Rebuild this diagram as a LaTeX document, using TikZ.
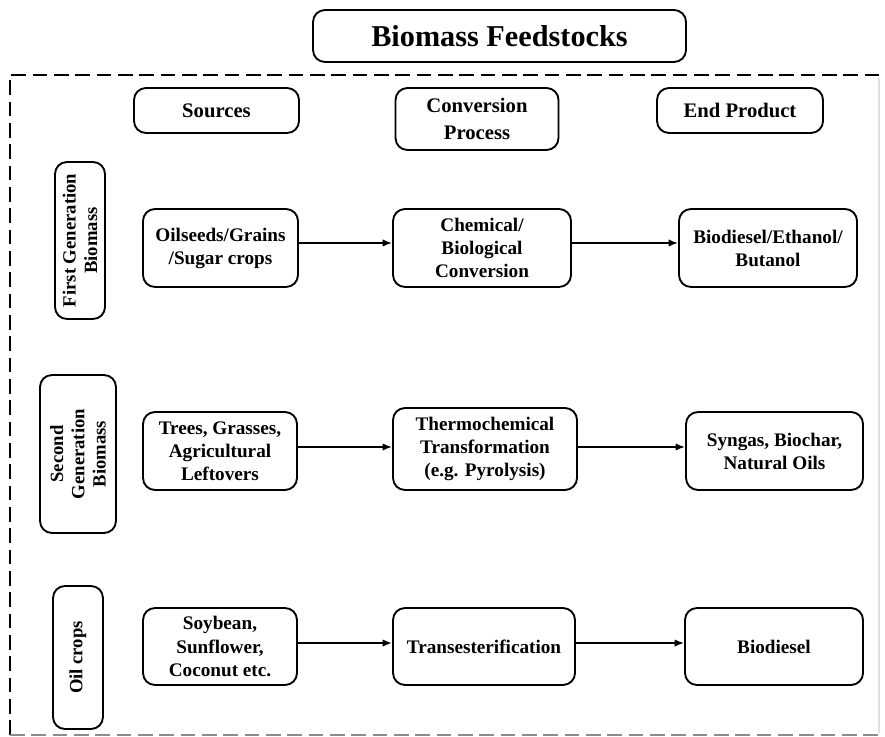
\documentclass[tikz,border=0pt]{standalone}
\usepackage{fontspec}
\setmainfont{Liberation Serif}
\usetikzlibrary{arrows.meta}

\tikzset{
  box/.style={draw, line width=1.4pt, rounded corners=9pt, align=center,
    inner sep=2pt, font=\bfseries\fontsize{14.4}{17.3}\selectfont},
  headbox/.style={box, font=\bfseries\fontsize{15.5}{20}\selectfont},
  titlebox/.style={box, font=\bfseries\fontsize{22.7}{26}\selectfont},
  sidebox/.style={box, rotate=90, font=\bfseries\fontsize{14}{16}\selectfont},
  arr/.style={line width=1.3pt, -{Latex[length=7pt,width=5.5pt]}},
  frame/.style={line width=1.5pt, dash pattern=on 11pt off 5pt}
}

\begin{document}
\begin{tikzpicture}[x=0.75pt, y=-0.75pt]
\useasboundingbox (0,0) rectangle (885,737);

% outer dashed frame
\draw[frame] (10,735) -- (10,75) -- (885,75);
\draw[frame, black!45] (10,735) -- (885,735);
\draw[line width=0.8pt, black!12] (879,78) -- (879,733);

% title
\node[titlebox, minimum width=279.75pt, minimum height=39pt] (title) at (499.5,36) {Biomass Feedstocks};

% column headers
\node[headbox, minimum width=123.75pt, minimum height=33.75pt] (hsrc) at (216.5,110.5) {Sources};
\node[headbox, minimum width=122.25pt, minimum height=46.5pt] (hconv) at (477,119) {Conversion\\Process};
\node[headbox, minimum width=124.5pt, minimum height=33.75pt] (hend) at (740,110.5) {End Product};

% row labels
\node[sidebox, minimum width=117.75pt, minimum height=37.5pt] (g1) at (80,240.5) {First Generation\\Biomass};
\node[sidebox, minimum width=118.5pt, minimum height=57pt] (g2) at (78,454) {Second\\Generation\\Biomass};
\node[sidebox, minimum width=107.25pt, minimum height=37.5pt] (g3) at (78,657.5) {Oil crops};

% first generation
\node[box, minimum width=116.25pt, minimum height=58.5pt] (s1) at (220.5,248) {Oilseeds/Grains\\/Sugar crops};
\node[box, minimum width=133.5pt, minimum height=58.5pt] (c1) at (482,248) {Chemical/\\Biological\\Conversion};
\node[box, minimum width=133.5pt, minimum height=58.5pt] (e1) at (768,248) {Biodiesel/Ethanol/\\Butanol};

% second generation
\node[box, minimum width=115.5pt, minimum height=58.5pt] (s2) at (220,451) {Trees, Grasses,\\Agricultural\\Leftovers};
\node[box, minimum width=138pt, minimum height=61.5pt] (c2) at (485,449) {Thermochemical\\Transformation\\(e.g. Pyrolysis)};
\node[box, minimum width=132.75pt, minimum height=58.5pt] (e2) at (774.5,451) {Syngas, Biochar,\\Natural Oils};

% oil crops
\node[box, minimum width=115.5pt, minimum height=57.75pt] (s3) at (220,646.5) {Soybean,\\Sunflower,\\Coconut etc.};
\node[box, minimum width=136.5pt, minimum height=57.75pt] (c3) at (484,646.5) {Transesterification};
\node[box, minimum width=133.5pt, minimum height=57.75pt] (e3) at (774,646.5) {Biodiesel};

% connectors
\draw[arr] ([yshift=3.75pt]s1.east) -- ([yshift=3.75pt]c1.west);
\draw[arr] ([yshift=3.75pt]c1.east) -- ([yshift=3.75pt]e1.west);
\draw[arr] ([yshift=3pt]s2.east) -- ([yshift=1.5pt]c2.west);
\draw[arr] ([yshift=1.5pt]c2.east) -- ([yshift=3pt]e2.west);
\draw[arr] ([yshift=2.6pt]s3.east) -- ([yshift=2.6pt]c3.west);
\draw[arr] ([yshift=2.6pt]c3.east) -- ([yshift=2.6pt]e3.west);
\end{tikzpicture}
\end{document}
